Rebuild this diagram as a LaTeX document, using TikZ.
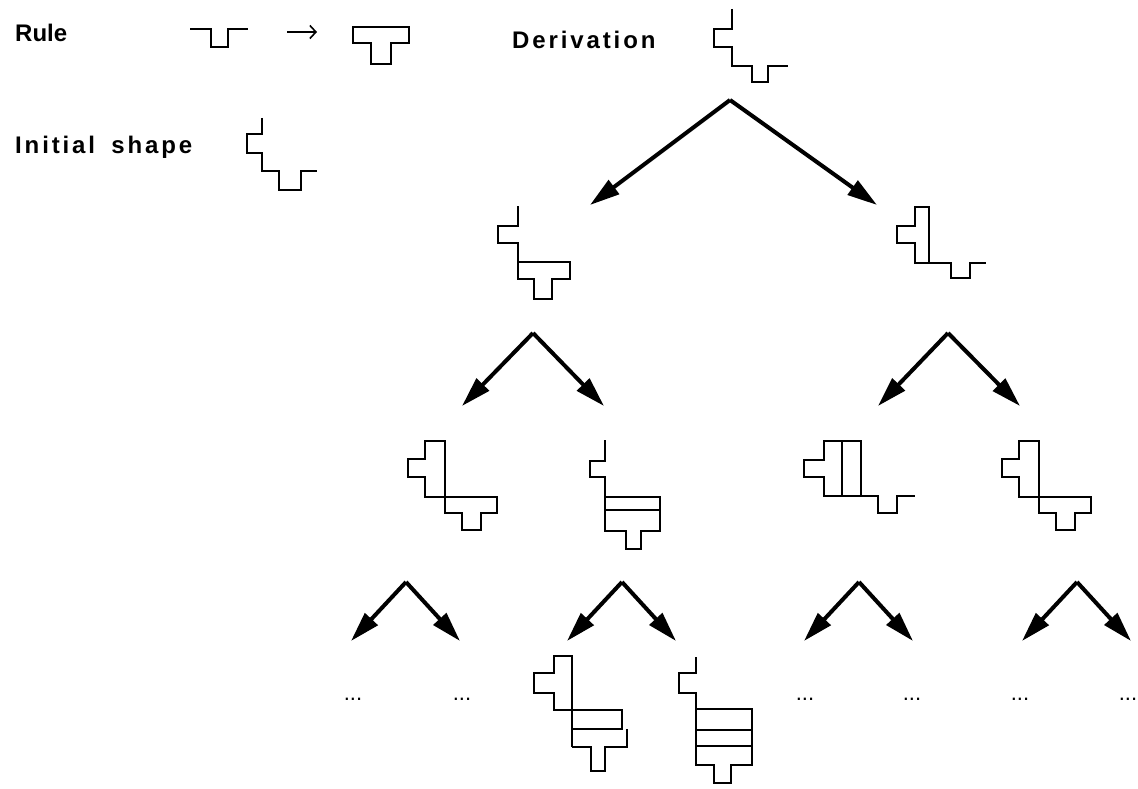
\documentclass[tikz,border=0pt]{standalone}
\usepackage{fontspec}
\setmainfont{Liberation Sans}
\newfontfamily\lblfont{Liberation Sans}
\newfontfamily\lblfontw[LetterSpace=12]{Liberation Sans}
\newfontfamily\lblfontx[LetterSpace=12,WordSpace=1.3]{Liberation Sans}
\usetikzlibrary{arrows.meta}
\begin{document}
\begin{tikzpicture}[x=1pt,y=-1pt,
  shp/.style={line width=2pt, line join=miter, line cap=butt},
  arr/.style={line width=4pt, -{Triangle[length=30pt,width=17pt]}},
  lbl/.style={font=\fontsize{24}{26}\selectfont\bfseries, anchor=west, inner sep=0pt},
  dots/.style={font=\fontsize{22}{24}\selectfont, inner sep=0pt, anchor=base}]
\useasboundingbox (0,0) rectangle (1138,789);
% labels
\node[lbl] (rule) at (15,33) {\lblfont\bfseries Rule};
\node[lbl] (deriv) at (512,40) {\lblfontw\bfseries Derivation};
\node[lbl] (init) at (15,147) {\lblfontx\bfseries Initial shape};
% rule
\draw[shp] (190,29)--(211,29)--(211,47)--(228,47)--(228,29)--(248,29);
\coordinate (ra) at (287,32);
\coordinate (rb) at (317,32);
\draw[line width=1.6pt, -{Straight Barb[length=6pt,width=13pt]}] (ra)--(rb);
\draw[shp] (353,27)--(409,27)--(409,43)--(391,43)--(391,64)--(371,64)--(371,43)--(353,43)--cycle;
% initial shape
\draw[shp] (262,118)--(262,134)--(247,134)--(247,153)--(262,153)--(262,171)--(279,171)--(279,190)--(301,190)--(301,171)--(317,171);
% derivation root
\draw[shp] (732,9)--(732,29)--(714,29)--(714,47)--(732,47)--(732,66)--(752,66)--(752,82)--(768,82)--(768,66)--(788,66);
% level 1 left
\draw[shp] (518,206)--(518,226)--(498,226)--(498,243)--(518,243)--(518,279)--(534,279)--(534,299)--(552,299)--(552,279)--(570,279)--(570,262)--(518,262);
% level 1 right
\draw[shp] (929,263)--(929,207)--(915,207)--(915,226)--(897,226)--(897,243)--(915,243)--(915,263)--(951,263)--(951,278)--(970,278)--(970,263)--(986,263);
% level 2 A and D
\foreach \dx in {0,594}{
\begin{scope}[xshift=\dx]
\draw[shp] (445,513)--(445,441)--(425,441)--(425,459)--(408,459)--(408,477)--(425,477)--(425,497)--(497,497)--(497,513)--(481,513)--(481,530)--(462,530)--(462,513)--cycle;
\end{scope}}
% level 2 B
\draw[shp] (605,440)--(605,461)--(590,461)--(590,477)--(605,477)--(605,531)--(626,531)--(626,549)--(641,549)--(641,531)--(660,531)--(660,497)--(605,497);
\draw[shp] (605,510)--(660,510);
% level 2 C
\draw[shp] (861,496)--(861,441)--(824,441)--(824,460)--(804,460)--(804,477)--(824,477)--(824,496)--(878,496)--(878,513)--(897,513)--(897,496)--(915,496);
\draw[shp] (842,441)--(842,496);
% level 3 E
\draw[shp] (572,747)--(572,656)--(554,656)--(554,673)--(534,673)--(534,693)--(554,693)--(554,710)--(622,710)--(622,729)--(572,729);
\draw[shp] (627,729)--(627,747)--(605,747)--(605,771)--(591,771)--(591,747)--(572,747);
% level 3 F
\draw[shp] (696,657)--(696,673)--(679,673)--(679,693)--(696,693)--(696,765)--(714,765)--(714,783)--(731,783)--(731,765)--(752,765)--(752,709)--(696,709);
\draw[shp] (696,730)--(752,730) (696,746)--(752,746);
% arrows
\coordinate (a0) at (730,100);
\coordinate (a0l) at (590,205);
\coordinate (a0r) at (877,205);
\coordinate (a1) at (533,333);
\coordinate (a1l) at (462,406);
\coordinate (a1r) at (604,406);
\coordinate (a2) at (948,333);
\coordinate (a2l) at (878,406);
\coordinate (a2r) at (1020,406);
\draw[arr] (a0)--(a0l);
\draw[arr] (a0)--(a0r);
\draw[arr] (a1)--(a1l);
\draw[arr] (a1)--(a1r);
\draw[arr] (a2)--(a2l);
\draw[arr] (a2)--(a2r);
\foreach \n/\x in {b1/406,b2/622,b3/859,b4/1077}{
  \coordinate (\n) at (\x,582);
  \coordinate (\n l) at (\x-55,641);
  \coordinate (\n r) at (\x+54,641);
  \draw[arr] (\n)--(\n l);
  \draw[arr] (\n)--(\n r);
}
% dots
\foreach \n/\x in {d1/353,d2/462,d3/805,d4/912,d5/1020,d6/1128}{
  \node[dots] (\n) at (\x,700) {...};
}
\end{tikzpicture}
\end{document}
